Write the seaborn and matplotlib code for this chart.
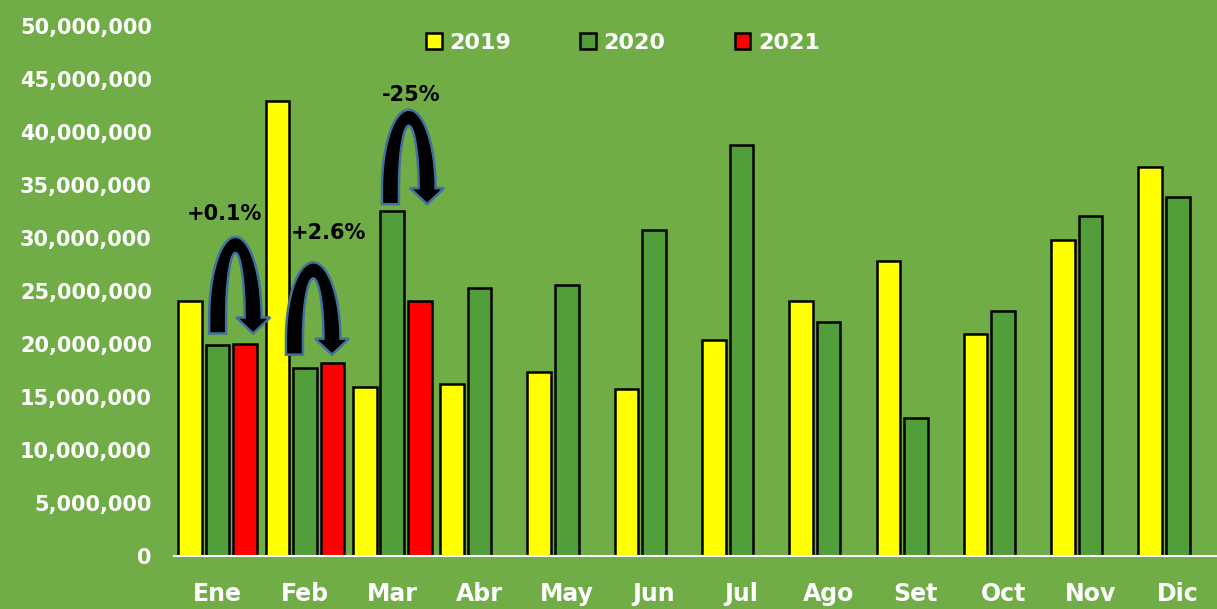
import numpy as np
import pandas as pd
import matplotlib
matplotlib.use("Agg")
import matplotlib.pyplot as plt
import seaborn as sns
from matplotlib.patches import Polygon
from matplotlib.ticker import FuncFormatter, MultipleLocator

# ---------------- data ----------------
months = ["Ene", "Feb", "Mar", "Abr", "May", "Jun", "Jul", "Ago", "Set", "Oct", "Nov", "Dic"]
vals_2019 = [24.1e6, 42.9e6, 15.9e6, 16.2e6, 17.4e6, 15.8e6, 20.4e6, 24.1e6, 27.8e6, 20.9e6, 29.8e6, 36.7e6]
vals_2020 = [19.9e6, 17.7e6, 32.5e6, 25.3e6, 25.6e6, 30.8e6, 38.8e6, 22.1e6, 13.0e6, 23.1e6, 32.1e6, 33.9e6]
vals_2021 = [20.0e6, 18.2e6, 24.1e6]
years = ["2019", "2020", "2021"]
colors = ["#FFFF00", "#529E3A", "#FF0000"]

# annotations: (label, left-leg x, tip x, base y, apex y, label x, label y)
ann_labels = ["+0.1%", "+2.6%", "-25%"]
ann_xl = [0.00, 0.88, 1.98]
ann_xr = [0.407, 1.31, 2.40]
ann_yb = [22.5e6, 20.5e6, 34.7e6]
ann_ytop = [30.1e6, 27.7e6, 42.1e6]
ann_tx = [0.075, 1.27, 2.22]
ann_ty = [32.3e6, 30.5e6, 43.5e6]

rows = []
for y, vals in zip(years, [vals_2019, vals_2020, vals_2021]):
    for m, v in zip(months, vals):
        rows.append({"Mes": m, "Año": y, "Valor": v})
df = pd.DataFrame(rows)

# ---------------- figure ----------------
bg = "#70AD47"
fig = plt.figure(figsize=(12.17, 6.09), dpi=100, facecolor=bg)
ax = fig.add_axes([174 / 1217, 53 / 609, 1 - 174 / 1217, 556 / 609])
ax.set_facecolor(bg)

sns.barplot(data=df, x="Mes", y="Valor", hue="Año", order=months, hue_order=years,
            palette=colors, width=0.945, gap=0.14, edgecolor="black", linewidth=1.8,
            saturation=1, errorbar=None, ax=ax)

ax.set_xlim(-0.5, 11.45)
ax.set_ylim(0, 52.45e6)
ax.yaxis.set_major_locator(MultipleLocator(5e6))
ax.yaxis.set_major_formatter(FuncFormatter(lambda v, p: f"{v:,.0f}"))
ax.set_xlabel("")
ax.set_ylabel("")
for s in ["top", "right", "left"]:
    ax.spines[s].set_visible(False)
ax.spines["bottom"].set_color("white")
ax.spines["bottom"].set_linewidth(1.5)
ax.tick_params(axis="y", length=0, pad=16, labelsize=15, labelcolor="white")
ax.tick_params(axis="x", length=0, pad=19, labelsize=17, labelcolor="white")
for lab in ax.get_yticklabels() + ax.get_xticklabels():
    lab.set_fontweight("bold")

# legend
handles, labels = ax.get_legend_handles_labels()
if ax.legend_:
    ax.legend_.remove()
leg = fig.legend(handles, labels, loc="center", bbox_to_anchor=(623 / 1217, 1 - 43 / 609),
                 ncol=3, frameon=False, handlelength=0.7, handleheight=0.7,
                 handletextpad=0.35, columnspacing=3.1,
                 prop={"weight": "bold", "size": 16})
for t in leg.get_texts():
    t.set_color("white")

# ---------------- curved arrows ----------------
px_x = 1 / 87.27       # data units per pixel (x)
px_y = 1 / 10.6 * 1e6  # data units per pixel (y)

def uturn(ax, xl, xr, yb, ytop):
    t = 17 * px_x
    hw = 17 * px_x
    tv = 16 * px_y
    drop = 16 * px_y
    xc = (xl + xr) / 2
    a = (xr - xl) / 2
    rxo, rxi = a + t / 2, a - t / 2
    ryo = ytop - yb
    ryi = ryo - tv
    th = np.linspace(np.pi, 0, 60)
    outer = np.column_stack([xc + rxo * np.cos(th), yb + ryo * np.sin(th)])
    inner = np.column_stack([xc + rxi * np.cos(th[::-1]), yb + ryi * np.sin(th[::-1])])
    pts = [(xc - rxo, yb - drop)]
    pts += outer.tolist()
    pts += [(xr + hw, yb), (xr, yb - drop), (xr - hw, yb)]
    pts += inner.tolist()
    pts += [(xc - rxi, yb - drop)]
    poly = Polygon(pts, closed=True, facecolor="black", edgecolor="#41719C",
                   linewidth=1.8, zorder=5, joinstyle="miter")
    ax.add_patch(poly)

for lab, xl, xr, yb, yt, tx, ty in zip(ann_labels, ann_xl, ann_xr, ann_yb, ann_ytop, ann_tx, ann_ty):
    uturn(ax, xl, xr, yb, yt)
    ax.text(tx, ty, lab, ha="center", va="center", fontsize=15, fontweight="bold",
            color="black", zorder=6)

fig.savefig("out.png", dpi=100, facecolor=bg)
